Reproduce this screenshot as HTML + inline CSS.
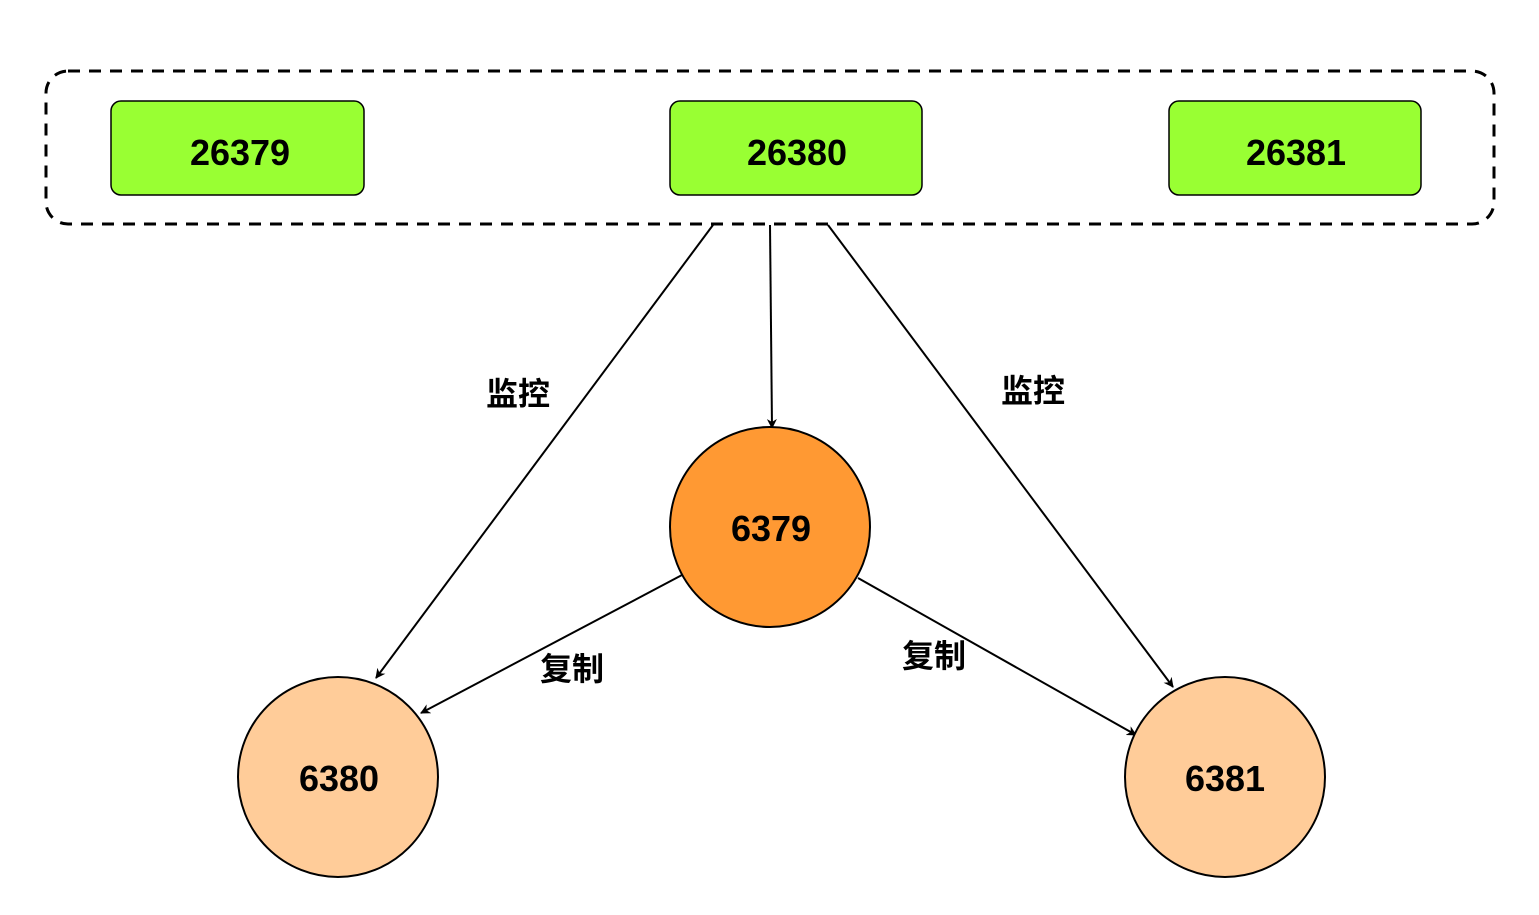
<!DOCTYPE html>
<html><head><meta charset="utf-8"><style>
html,body{margin:0;padding:0;background:#fff;}
svg{display:block;}
text{font-family:"Liberation Sans","Noto Sans CJK SC",sans-serif;font-weight:bold;}
</style></head><body>
<svg width="1539" height="915" viewBox="0 0 1539 915" xmlns="http://www.w3.org/2000/svg">
<defs>
<marker id="a" viewBox="0 0 10 10" refX="9" refY="5" markerWidth="10" markerHeight="10" markerUnits="userSpaceOnUse" orient="auto">
<path d="M0,0 L10,5 L0,10 L3,5 z" fill="#000"/>
</marker>
</defs>
<rect x="46" y="71" width="1448" height="153" rx="22" fill="none" stroke="#000" stroke-width="3" stroke-dasharray="12,9"/>
<rect x="111" y="101" width="253" height="94" rx="10" fill="#99FF33" stroke="#000" stroke-width="1.5"/>
<rect x="670" y="101" width="252" height="94" rx="10" fill="#99FF33" stroke="#000" stroke-width="1.5"/>
<rect x="1169" y="101" width="252" height="94" rx="10" fill="#99FF33" stroke="#000" stroke-width="1.5"/>
<text x="240" y="165" font-size="36" text-anchor="middle">26379</text>
<text x="797" y="165" font-size="36" text-anchor="middle">26380</text>
<text x="1296" y="165" font-size="36" text-anchor="middle">26381</text>
<g stroke="#000" stroke-width="2" fill="none">
<line x1="713" y1="225" x2="376" y2="678" marker-end="url(#a)"/>
<line x1="770" y1="225" x2="772" y2="428" marker-end="url(#a)"/>
<line x1="828" y1="225" x2="1173" y2="687" marker-end="url(#a)"/>
<line x1="682" y1="575" x2="421" y2="713" marker-end="url(#a)"/>
<line x1="858" y1="578" x2="1136" y2="735" marker-end="url(#a)"/>
</g>
<circle cx="770" cy="527" r="100" fill="#FF9933" stroke="#000" stroke-width="2"/>
<circle cx="338" cy="777" r="100" fill="#FFCC99" stroke="#000" stroke-width="2"/>
<circle cx="1225" cy="777" r="100" fill="#FFCC99" stroke="#000" stroke-width="2"/>
<text x="771" y="541" font-size="36" text-anchor="middle">6379</text>
<text x="339" y="791" font-size="36" text-anchor="middle">6380</text>
<text x="1225" y="791" font-size="36" text-anchor="middle">6381</text>
<g font-size="32" text-anchor="middle">
<text x="518" y="405">监控</text>
<text x="1033" y="402">监控</text>
<text x="572" y="680">复制</text>
<text x="934" y="667">复制</text>
</g>
</svg>
</body></html>
